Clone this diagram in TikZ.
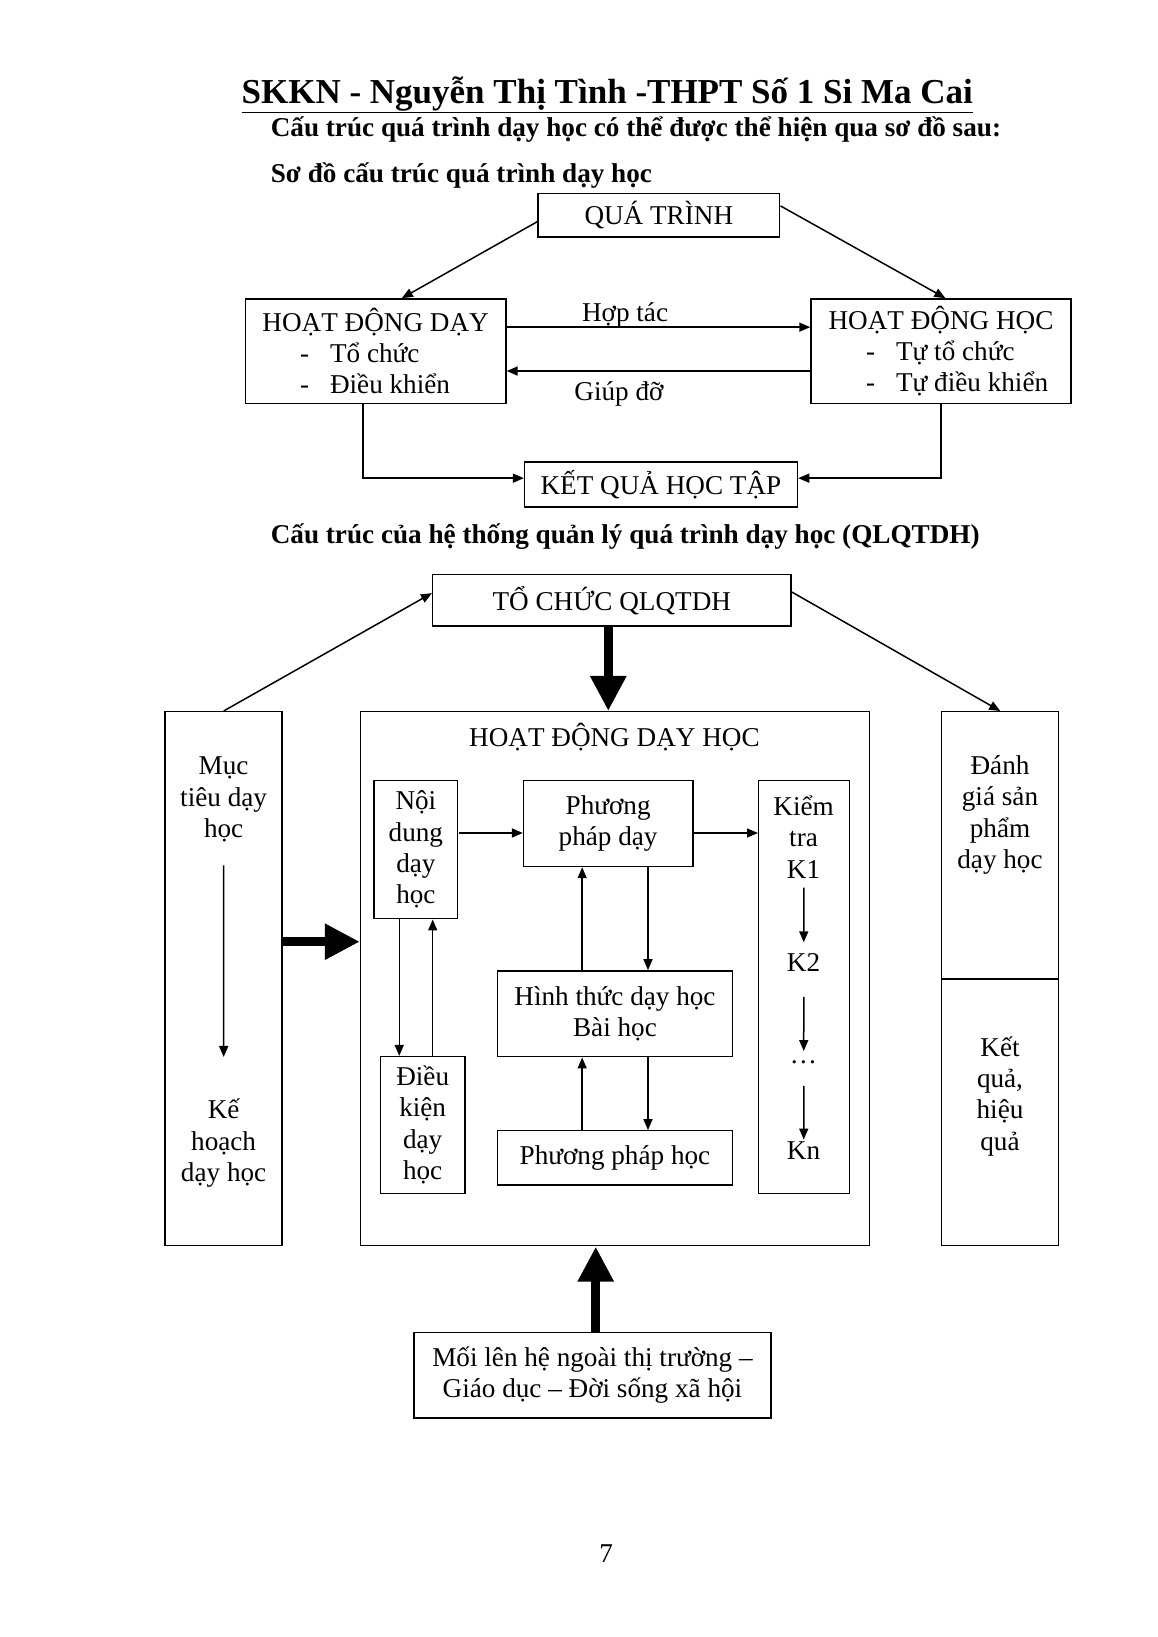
\documentclass[tikz,border=0pt]{standalone}
\usepackage{fontspec}
\setmainfont{Liberation Serif}
\usetikzlibrary{arrows.meta}
\newcommand\corps{\fontsize{26}{30}\selectfont}
\newcommand\entete{\fontsize{26}{32}\selectfont\bfseries}
\newcommand\tiret[1]{\hspace*{36pt}-\hspace*{20pt}#1}

\begin{document}
\begin{tikzpicture}[x=1pt,y=-1pt,scale=1.0449,font=\corps,every node/.append style={transform shape}]
\tikzstyle{lien}=[-{Triangle[length=11pt,width=9pt]},line width=1.5pt]
\tikzstyle{grosse}=[-{Triangle[length=35pt,width=34pt]},line width=9.5pt]
\tikzset{cadre/.style 2 args={draw,line width=1.5pt,minimum width=#1,minimum height=#2,inner sep=2pt,align=center},
texte/.style={inner sep=2pt,align=center}}
\useasboundingbox[fill=white] (0,0) rectangle (1108.2,1566.6);

% en-tete
\node[anchor=base west,inner sep=0pt,font=\fontsize{33.5}{40}\selectfont\bfseries] (titre) at (231,99) {\underline{SKKN - Nguyễn Thị Tình -THPT Số 1 Si Ma Cai}};
\node[anchor=base west,inner sep=0pt,font=\entete] (intro) at (259,131) {Cấu trúc quá trình dạy học có thể được thể hiện qua sơ đồ sau:};
\node[anchor=base west,inner sep=0pt,font=\entete] (sd1) at (259,175) {Sơ đồ cấu trúc quá trình dạy học};

% schema 1
\node[cadre={231pt}{42pt}] (qt) at (630.5,206) {QUÁ TRÌNH};
\node[cadre={249pt}{100pt},align=left] (hdd) at (359.5,336) {HOẠT ĐỘNG DẠY\\\tiret{Tổ chức}\\\tiret{Điều khiển}};
\node[cadre={249pt}{100pt},align=left] (hdh) at (900.5,336) {HOẠT ĐỘNG HỌC\\\tiret{Tự tổ chức}\\\tiret{Tự điều khiển}};
\node[cadre={261pt}{43pt}] (kq) at (632.5,463.5) {KẾT QUẢ HỌC TẬP};

\draw[lien] ([yshift=-6pt]qt.west) -- ([xshift=25pt]hdd.north);
\draw[lien] ([yshift=9pt]qt.east) -- ([xshift=4pt]hdh.north);
\draw[lien] ([yshift=23pt]hdd.east) -- node[above,pos=0.39,yshift=-4pt] (hoptac) {Hợp tác} ([yshift=23pt]hdd.east -| hdh.west);
\draw[lien] ([yshift=-19pt]hdh.west) -- node[below,pos=0.63,yshift=-6pt] (giupdo) {Giúp đỡ} ([yshift=-19pt]hdh.west -| hdd.east);
\draw[lien] ([xshift=-12pt]hdd.south) |- ([yshift=6pt]kq.west);
\draw[lien] (hdh.south) |- ([yshift=6pt]kq.east);

% schema 2
\node[anchor=base west,inner sep=0pt,font=\entete] (sd2) at (259,520) {Cấu trúc của hệ thống quản lý quá trình dạy học (QLQTDH)};
\node[cadre={343pt}{49pt}] (tc) at (585.5,574.5) {TỔ CHỨC QLQTDH};
\node[cadre={112pt}{511pt}] (mt) at (214,936.5) {};
\node[cadre={487pt}{511pt}] (hd) at (588.5,936.5) {};
\node[cadre={112pt}{256pt}] (dg) at (957,809) {};
\node[cadre={112pt}{255pt}] (kqh) at (957,1064.5) {};
\node[texte] (mt1) at (214,765) {Mục\\tiêu dạy\\học};
\node[texte] (mt2) at (214,1094) {Kế\\hoạch\\dạy học};
\node[texte] (hdt) at (588,705) {HOẠT ĐỘNG DẠY HỌC};
\node[texte] (dg1) at (957,780) {Đánh\\giá sản\\phẩm\\dạy học};
\node[texte] (kqh1) at (957,1049) {Kết\\quả,\\hiệu\\quả};

\node[cadre={80pt}{132pt}] (nd) at (398,813) {Nội\\dung\\dạy\\học};
\node[cadre={162pt}{82pt}] (ppd) at (582,788) {Phương\\pháp dạy};
\node[cadre={87pt}{395pt}] (kt) at (769.5,944.5) {};
\node[texte] (kt1) at (769,801) {Kiểm\\tra\\K1};
\node[texte] (k2) at (769,921) {K2};
\node[texte] (kd) at (769,1017) {…};
\node[texte] (kn) at (769,1101) {Kn};
\node[cadre={81pt}{131pt}] (dk) at (404.5,1076.5) {Điều\\kiện\\dạy\\học};
\node[cadre={225pt}{82pt}] (ht) at (588.5,970) {Hình thức dạy học\\Bài học};
\node[cadre={225pt}{52pt}] (pph) at (588.5,1108) {Phương pháp học};
\node[cadre={342pt}{82pt}] (ml) at (567,1316) {Mối lên hệ ngoài thị trường –\\Giáo dục – Đời sống xã hội};
\node[texte] (page) at (580,1487) {7};

\draw[lien] (mt.north) -- ([yshift=7pt]tc.west);
\draw[lien] ([yshift=8pt]tc.east) -- (dg.north);
\draw[grosse] (tc.south -| ppd) -- (hd.north -| ppd);
\draw[grosse] ([yshift=35.5pt]mt.east) -- ([yshift=35.5pt]mt.east -| hd.west);
\draw[grosse] ([xshift=3pt]ml.north) -- ([xshift=3pt]ml.north |- hd.south);
\draw[lien,shorten <=21pt,shorten >=40pt] (mt1) -- (mt2);

\draw[lien] ([yshift=16pt]nd.east) -- ([yshift=16pt]nd.east -| ppd.west);
\draw[lien] ([yshift=-9pt]ppd.east) -- ([yshift=-9pt]ppd.east -| kt.west);
\draw[lien] ([xshift=-16pt]nd.south) -- ([xshift=-16pt]nd.south |- dk.north);
\draw[lien] ([xshift=9.5pt]dk.north) -- ([xshift=9.5pt]dk.north |- nd.south);
\draw[lien] ([xshift=-31.5pt]ht.north) -- ([xshift=-31.5pt]ht.north |- ppd.south);
\draw[lien] ([xshift=38pt]ppd.south) -- ([xshift=38pt]ppd.south |- ht.north);
\draw[lien] ([xshift=-31.5pt]pph.north) -- ([xshift=-31.5pt]pph.north |- ht.south);
\draw[lien] ([xshift=31.5pt]ht.south) -- ([xshift=31.5pt]ht.south |- pph.north);
\draw[lien,shorten <=7pt,shorten >=9pt] (kt1) -- (k2);
\draw[lien,shorten <=23pt,shorten >=8pt] (k2) -- (kd);
\draw[lien,shorten <=19pt] (kd) -- (kn);

\end{tikzpicture}
\end{document}
